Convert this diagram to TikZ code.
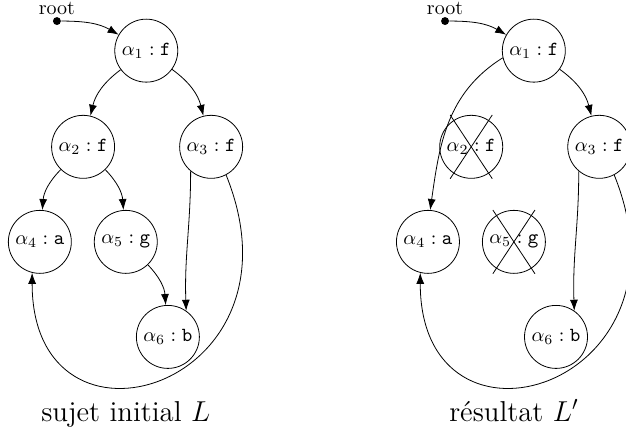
\documentclass[tikz,border=0pt]{standalone}
\usepackage{tikz}
\usetikzlibrary{arrows.meta}

\begin{document}
\begin{tikzpicture}[x=1cm,y=1cm,>={Latex[length=5.5pt,width=4pt]},
    term/.style={draw,circle,minimum size=31.5pt,inner sep=1pt},
    ptr/.style={circle,fill,inner sep=1.4pt}]
  \useasboundingbox (0,0) rectangle (11.0,7.59);
  \clip (0,0) rectangle (11.0,7.59);
  % sujet initial
  \node[ptr,label={[inner sep=1pt]above:root}] (r) at (1.00,7.22) {};
  \node[term] (a1) at (2.57,6.70) {$\alpha_1:\texttt{f}$};
  \node[term] (a2) at (1.46,5.01) {$\alpha_2:\texttt{f}$};
  \node[term] (a3) at (3.71,5.01) {$\alpha_3:\texttt{f}$};
  \node[term] (a4) at (0.70,3.34) {$\alpha_4:\texttt{a}$};
  \node[term] (a5) at (2.21,3.34) {$\alpha_5:\texttt{g}$};
  \node[term] (a6) at (2.95,1.67) {$\alpha_6:\texttt{b}$};
  \draw[->] (r) to[out=0,in=150] (a1);
  \draw[->] (a1) to[bend right=20] (a2);
  \draw[->] (a1) to[bend left=20] (a3);
  \draw[->] (a2) to[bend right=20] (a4);
  \draw[->] (a2) to[bend left=20] (a5);
  \draw[->] (a5) to[bend left=20] (a6);
  \draw[->] (a3.230) to[out=-90,in=92] (a6.55);
  \draw[->] (a3.298) .. controls +(-68:4.04) and +(-90:3.51) .. (a4.256);
  \node[font=\Large,anchor=base] (capL) at (2.21,0.19) {sujet initial $L$};
  % resultat
  \node[ptr,label={[inner sep=1pt]above:root}] (s) at (7.82,7.22) {};
  \node[term] (b1) at (9.38,6.70) {$\alpha_1:\texttt{f}$};
  \node[term] (b2) at (8.28,5.01) {$\alpha_2:\texttt{f}$};
  \node[term] (b3) at (10.53,5.01) {$\alpha_3:\texttt{f}$};
  \node[term] (b4) at (7.52,3.34) {$\alpha_4:\texttt{a}$};
  \node[term] (b5) at (9.03,3.34) {$\alpha_5:\texttt{g}$};
  \node[term] (b6) at (9.77,1.67) {$\alpha_6:\texttt{b}$};
  \foreach \n in {b2,b5} {
    \draw ([shift={(-0.37,0.56)}]\n.center) -- ([shift={(0.37,-0.56)}]\n.center);
    \draw ([shift={(0.37,0.56)}]\n.center) -- ([shift={(-0.37,-0.56)}]\n.center);
  }
  \draw[->] (s) to[out=0,in=150] (b1);
  \draw[->] (b1) to[bend left=20] (b3);
  \draw[->] (b1.193) to[out=212,in=82] (b4.86);
  \draw[->] (b3.230) to[out=-90,in=92] (b6.55);
  \draw[->] (b3.298) .. controls +(-68:4.04) and +(-90:3.51) .. (b4.256);
  \node[font=\Large,anchor=base] (capR) at (9.03,0.19) {r\'esultat $L'$};
\end{tikzpicture}
\end{document}
